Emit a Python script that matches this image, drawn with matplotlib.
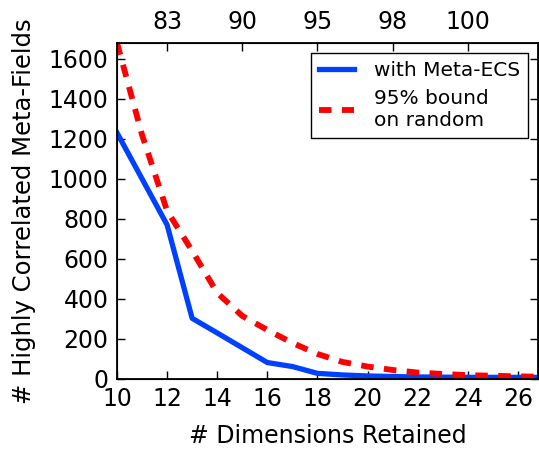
import matplotlib
matplotlib.use("Agg")
import matplotlib.pyplot as plt

# dimensions retained and counts of highly correlated meta-fields
dims = list(range(10, 28))
with_meta_ecs = [1230, 1000, 770, 303, 230, 156, 82, 62, 28, 20, 15, 12, 10, 9, 8, 8, 8, 8]
random_bound = [1680, 1220, 840, 640, 430, 315, 245, 180, 125, 85, 62, 45, 32, 25, 19, 16, 13, 11]

# top axis: percent variance retained
top_ticks = [12, 15, 18, 21, 24]
top_labels = ["83", "90", "95", "98", "100"]

plt.rcParams["font.family"] = ["DejaVu Sans"]
plt.rcParams["lines.scale_dashes"] = False

fig = plt.figure(figsize=(5.39, 4.49), dpi=100)
ax = fig.add_axes([0.217, 0.156, 0.781, 0.749])

ax.plot(dims, with_meta_ecs, color="#0040ff", lw=3.8, label="with Meta-ECS")
ax.plot(dims, random_bound, color="#ff0000", lw=4.2, dashes=(9, 7.5),
        label="95% bound\non random")

ax.set_xlim(10, 26.8)
ax.set_ylim(0, 1680)
ax.set_xticks(range(10, 27, 2))
ax.set_yticks(range(0, 1601, 200))
ax.tick_params(direction="in", length=6, width=1, labelsize=17,
               top=False, right=True, pad=6)
ax.set_xlabel("# Dimensions Retained", fontsize=17, labelpad=9)
ax.set_ylabel("# Highly Correlated Meta-Fields", fontsize=17.5, labelpad=9)
for s in ax.spines.values():
    s.set_linewidth(1.3)

leg = ax.legend(loc="upper right", fontsize=14.5, fancybox=False,
                framealpha=1, edgecolor="black", handlelength=1.7,
                handletextpad=1.0, labelspacing=0.45)
leg.get_frame().set_linewidth(1.0)

ax2 = ax.twiny()
ax2.set_xlim(ax.get_xlim())
ax2.set_xticks(top_ticks)
ax2.set_xticklabels(top_labels)
ax2.tick_params(direction="in", length=6, width=1, labelsize=17, pad=6)

fig.savefig("out.png", dpi=100)
